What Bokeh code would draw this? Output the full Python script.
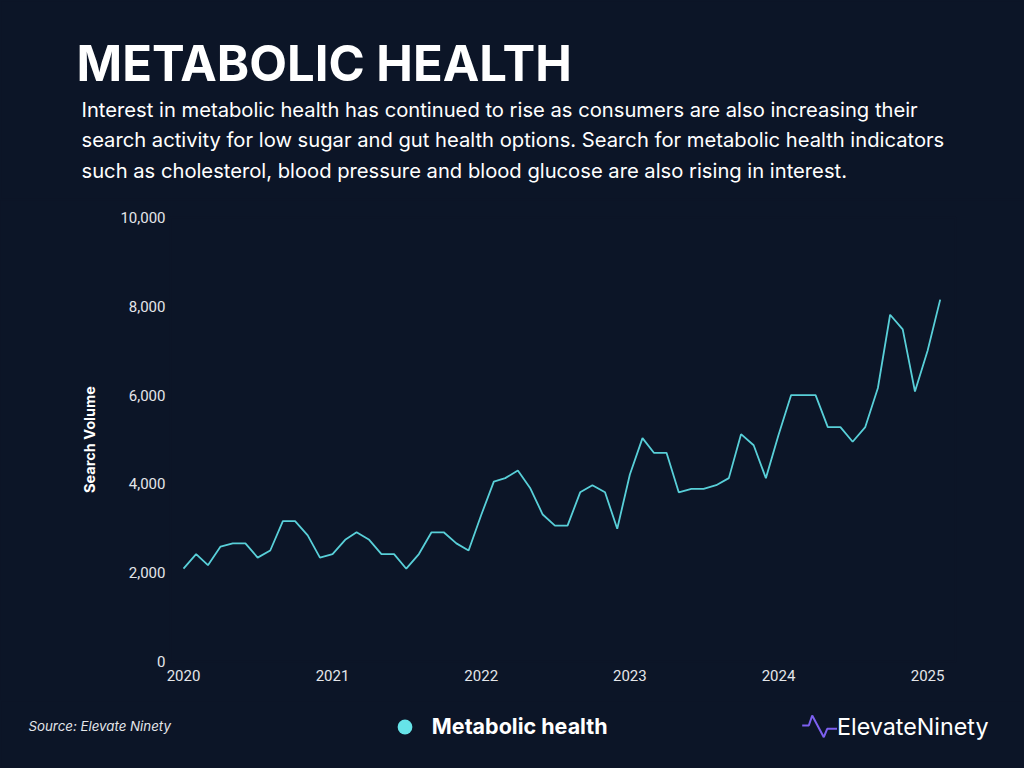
import pandas as pd
from bokeh.plotting import figure
from bokeh.layouts import column
from bokeh.models import (Range1d, FixedTicker, NumeralTickFormatter, DatetimeTickFormatter,
                          Label, Legend, LegendItem, PolyAnnotation, Plot)
from bokeh.embed import file_html
from bokeh.resources import INLINE

# ---------------- data ----------------
months = pd.date_range("2020-01-01", periods=62, freq="MS")
search_volume = [2090, 2420, 2170, 2590, 2660, 2660, 2340, 2500, 3160, 3160, 2840, 2340,
                 2420, 2740, 2910, 2740, 2420, 2420, 2090, 2420, 2910, 2910, 2660, 2500,
                 3300, 4050, 4130, 4300, 3910, 3310, 3060, 3060, 3810, 3970, 3810, 2990,
                 4210, 5030, 4700, 4700, 3810, 3890, 3890, 3970, 4130, 5120, 4870, 4130,
                 5100, 6000, 6000, 6000, 5280, 5280, 4950, 5280, 6160, 7810, 7480, 6080,
                 7000, 8150]
series_name = "Metabolic health"
y_ticks = [0, 2000, 4000, 6000, 8000, 10000]
year_ticks = ["2020-01-01", "2021-01-01", "2022-01-01", "2023-01-01", "2024-01-01", "2025-01-01"]

title_text = "METABOLIC HEALTH"
subtitle_lines = [
    "Interest in metabolic health has continued to rise as consumers are also increasing their",
    "search activity for low sugar and gut health options. Search for metabolic health indicators",
    "such as cholesterol, blood pressure and blood glucose are also rising in interest.",
]
source_text = "Source: Elevate Ninety"
logo_text = "ElevateNinety"

# ---------------- style / layout ----------------
BG = "#0c1527"
LINE = "#58cfd8"
DOT = "#66e3e8"
PURPLE = "#7d60f0"
W = 1024
HEAD_H, MAIN_H, FOOT_H = 200, 500, 68          # page rows: 0-200, 200-700, 700-768
F_LEFT, F_RIGHT, F_TOP, F_BOTTOM = 170, 955, 217, 661   # chart frame, page coords
DATA_LEFT, DATA_RIGHT = 183.0, 939.7
HAS_FRAME_ALIGN = "frame_align" in Plot.properties()
BG_STYLE = {"background-color": BG}

t = [m.value / 1e6 for m in months]
scale = (DATA_RIGHT - DATA_LEFT) / (t[-1] - t[0])
x_start = t[0] - (DATA_LEFT - F_LEFT) / scale
x_end = t[-1] + (F_RIGHT - DATA_RIGHT) / scale


def finish(f):
    f.outline_line_color = BG
    f.outline_line_width = 2
    f.grid.visible = False
    f.styles = BG_STYLE
    if HAS_FRAME_ALIGN:
        f.frame_align = False
    return f


def blank(height, top):
    f = figure(width=W, height=height, output_backend="svg", toolbar_location=None,
               x_range=Range1d(0, W), y_range=Range1d(top + height, top),
               x_axis_location=None, y_axis_location=None, min_border=0,
               background_fill_color=BG, border_fill_color=BG)
    return finish(f)


# ---------- header ----------
head = blank(HEAD_H, 0)
head.add_layout(Label(x=76, y=63, text=title_text, text_font="Inter", text_font_style="bold",
                      text_font_size="49px", text_color="#ffffff", text_baseline="alphabetic"))
for line, base in zip(subtitle_lines, [108.5, 139, 169.5]):
    head.add_layout(Label(x=81, y=base, text=line, text_font="Inter", text_font_size="20.2px",
                          text_color="#ffffff", text_baseline="alphabetic"))

# ---------- main chart ----------
p = figure(width=W, height=MAIN_H, x_axis_type="datetime", output_backend="svg",
           toolbar_location=None, x_range=Range1d(x_start, x_end),
           y_range=Range1d(0, 10000),
           min_border_left=F_LEFT, min_border_right=W - F_RIGHT,
           min_border_top=F_TOP - HEAD_H, min_border_bottom=HEAD_H + MAIN_H - F_BOTTOM,
           background_fill_color=BG, border_fill_color=BG)
finish(p)

p.line(x=months, y=search_volume, line_color=LINE, line_width=1.8)

yax = p.yaxis[0]
yax.ticker = FixedTicker(ticks=y_ticks)
yax.formatter = NumeralTickFormatter(format="0,0")
xax = p.xaxis[0]
xax.ticker = FixedTicker(ticks=[pd.Timestamp(d).value / 1e6 for d in year_ticks])
xax.formatter = DatetimeTickFormatter(years="%Y", months="%Y", days="%Y", hours="%Y")
for ax in (xax, yax):
    ax.axis_line_color = None
    ax.major_tick_line_color = None
    ax.minor_tick_line_color = None
    ax.major_tick_out = 0
    ax.major_tick_in = 0
    ax.minor_tick_out = 0
    ax.major_label_text_font = "Roboto"
    ax.major_label_text_font_size = "15px"
    ax.major_label_text_color = "#e4e6ea"
yax.major_label_standoff = 5
xax.major_label_standoff = 8
yax.axis_label = "Search Volume"
yax.axis_label_text_font = "Inter"
yax.axis_label_text_font_style = "bold"
yax.axis_label_text_font_size = "14.5px"
yax.axis_label_text_color = "#ffffff"
yax.axis_label_standoff = 19

# ---------- footer ----------
FOOT_TOP = HEAD_H + MAIN_H
foot = blank(FOOT_H, FOOT_TOP)
foot.add_layout(Label(x=28, y=725.5, text=source_text, text_font="Inter",
                      text_font_style="italic", text_font_size="13.3px",
                      text_color="#e4e6ea", text_baseline="middle"))
# legend key: series points drawn with zero size (out of this strip's view); only the key shows
key_r = foot.scatter(x=t, y=search_volume, size=0, fill_color=DOT, line_color=None)
foot.add_layout(Legend(items=[LegendItem(label=series_name, renderers=[key_r])],
                       location=(385.8, FOOT_TOP + FOOT_H - 744.5), padding=0, margin=0,
                       spacing=0, glyph_width=37, glyph_height=37, label_standoff=9,
                       label_text_font="Inter", label_text_font_style="bold",
                       label_text_font_size="21.5px", label_text_color="#ffffff",
                       background_fill_alpha=0, border_line_alpha=0))
pulse_x = [801.7, 808.3, 811.7, 823.3, 826.7, 836.5]
pulse_y = [725, 725, 715, 736.7, 728.3, 728.3]
foot.add_layout(PolyAnnotation(xs=pulse_x + pulse_x[::-1], ys=pulse_y + pulse_y[::-1],
                               line_color=PURPLE, line_alpha=1.0, line_width=2, fill_alpha=0))
foot.add_layout(Label(x=836.5, y=725.5, text=logo_text, text_font="Inter",
                      text_font_size="23.3px", text_color="#ffffff", text_baseline="middle"))

page = column(head, p, foot, spacing=0, styles=BG_STYLE)
open("out.html", "w").write(file_html(page, INLINE))
